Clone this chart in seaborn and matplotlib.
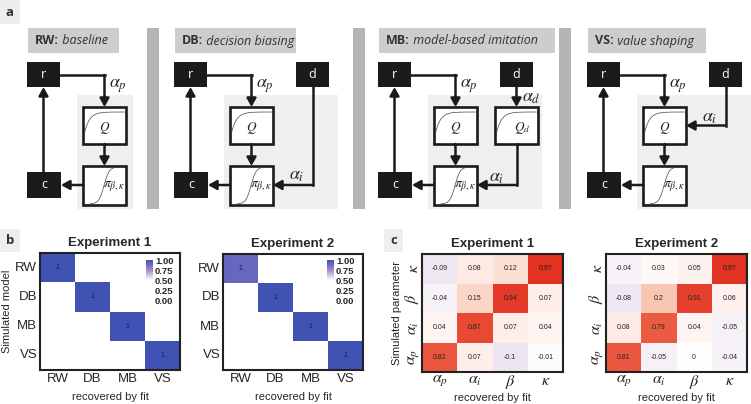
import numpy as np
import pandas as pd
import matplotlib
matplotlib.use("Agg")
import matplotlib.pyplot as plt
import seaborn as sns
from matplotlib.colors import LinearSegmentedColormap
from matplotlib.patches import Rectangle

# ---------------- data ----------------
models = ["RW", "DB", "MB", "VS"]
model_titles = ["baseline", "decision biasing", "model-based imitation", "value shaping"]

conf_exp1 = [[1, 0, 0, 0], [0, 1, 0, 0], [0, 0, 1, 0], [0, 0, 0, 1]]
conf_exp2 = [[0.9, 0, 0, 0], [0, 1, 0, 0], [0, 0, 1, 0], [0, 0, 0, 1]]
conf_annot = [["1", "", "", ""], ["", "1", "", ""], ["", "", "1", ""], ["", "", "", "1"]]
cbar_ticks = [0.0, 0.25, 0.5, 0.75, 1.0]

param_rows = [r"$\kappa$", r"$\beta$", r"$\alpha_i$", r"$\alpha_p$"]
param_cols = [r"$\alpha_p$", r"$\alpha_i$", r"$\beta$", r"$\kappa$"]
corr_exp1 = [[-0.09, 0.08, 0.12, 0.97],
             [-0.04, 0.15, 0.94, 0.07],
             [0.04, 0.87, 0.07, 0.04],
             [0.82, 0.07, -0.1, -0.01]]
corr_exp2 = [[-0.04, 0.03, 0.05, 0.97],
             [-0.08, 0.2, 0.91, 0.06],
             [0.08, 0.79, 0.04, -0.05],
             [0.81, -0.05, 0, -0.04]]

# ---------------- style ----------------
sns.set_theme(style="white")
plt.rcParams["font.family"] = ["Liberation Sans", "DejaVu Sans"]
plt.rcParams["mathtext.fontset"] = "stix"

W, H = 751, 404
fig = plt.figure(figsize=(W / 100, H / 100), dpi=100)
fig.patch.set_facecolor("white")

# ---------------- panel a : diagrams ----------------
axd = fig.add_axes([0, 0, 1, 1])
axd.set_xlim(0, W)
axd.set_ylim(H, 0)
axd.axis("off")

AFONT = ["Open Sans", "DejaVu Sans"]
LW = 1.8
GREEK = 13


def rect(x, y, w, h, fc, ec="none", lw=0, z=1):
    axd.add_patch(Rectangle((x, y), w, h, facecolor=fc, edgecolor=ec, lw=lw, zorder=z))


def poly(xs, ys):
    axd.plot(xs, ys, color="k", lw=LW, solid_capstyle="projecting",
             solid_joinstyle="miter", zorder=3)


def arrow(x0, y0, x1, y1):
    axd.annotate("", xy=(x1, y1), xytext=(x0, y0),
                 arrowprops=dict(arrowstyle="-|>,head_length=0.5,head_width=0.28",
                                 lw=LW, color="k", shrinkA=0, shrinkB=0,
                                 mutation_scale=10), zorder=4)


def black_box(x, y, w, h, label):
    rect(x, y, w, h, "#1b1b1b", z=2)
    axd.text(x + w / 2, y + h / 2, label, color="white", ha="center", va="center",
             fontsize=9, family=AFONT, zorder=5)


def q_box(x, y, label):
    w, h = 43, 37
    rect(x, y, w, h, "white", ec="k", lw=1.9, z=2)
    xx = np.linspace(x + 1.5, x + w - 1.5, 60)
    yy = y + 5 + 21 * np.exp(-(xx - x - 1.5) / 5.0)
    axd.plot(xx, yy, color="#444444", lw=0.5, zorder=3)
    axd.text(x + w / 2 + (6 if label != "$Q$" else 0), y + h / 2 + 3, label,
             ha="center", va="center", fontsize=9.5, zorder=5)


def pi_box(x, y):
    w, h = 43, 39
    rect(x, y, w, h, "white", ec="k", lw=1.9, z=2)
    xx = np.linspace(x + 7, x + 36, 80)
    yy = y + h - 1 - (h - 2) / (1 + np.exp(-(xx - x - 21) / 2.6))
    axd.plot(xx, yy, color="#444444", lw=0.5, zorder=3)
    axd.text(x + w - 1, y + h / 2 + 1, r"$\pi_{\beta,\kappa}$", ha="right", va="center",
             fontsize=10, zorder=5)


# panel label a
rect(0, 0, 20, 24, "#eeeeee", z=0)
axd.text(10, 12, "a", ha="center", va="center", fontsize=9.5, fontweight="bold",
         family=AFONT, color="#333333")

panel_x = [0, 147, 351, 560]
title_w = [91, 121, 176, 118]

# separators
for sx in [147, 353, 559]:
    rect(sx, 28, 12, 181, "#b5b5b5", z=0)

for i, (m, t) in enumerate(zip(models, model_titles)):
    ox = panel_x[i]
    rect(ox + 28, 28, title_w[i], 25, "#cdcdcd", z=0)
    tb = axd.text(ox + 35, 41, m + ":", fontweight="bold", fontsize=9, family=AFONT,
                  ha="left", va="center", color="#333333", zorder=5)
    axd.annotate(" " + t, xy=(1, 0), xycoords=tb, ha="left", va="bottom", fontsize=9,
                 style="italic", family=AFONT, color="#333333", zorder=5)
    # light grey region
    rect(ox + 77, 95, 56 if i == 0 else 114, 114, "#efefef", z=0.5)
    black_box(ox + 27, 62, 33, 25, "r")
    black_box(ox + 27, 172, 34, 26, "c")
    q_box(ox + 83, 107, "$Q$")
    pi_box(ox + 83, 166)
    # r -> Q
    poly([ox + 60, ox + 104.5], [75, 75])
    arrow(ox + 104.5, 75, ox + 104.5, 107)
    axd.text(ox + 109, 86, r"$\alpha_p$", fontsize=GREEK, ha="left", va="center", zorder=5)
    # Q -> pi
    arrow(ox + 104.5, 144, ox + 104.5, 166)
    # pi -> c
    arrow(ox + 83, 185, ox + 61, 185)
    # c -> r
    arrow(ox + 43.5, 172, ox + 43.5, 87)
    if i > 0:
        black_box(ox + 149, 62, 33, 25, "d")
    if i == 1:
        poly([ox + 165.5, ox + 165.5], [87, 185])
        arrow(ox + 165.5, 185, ox + 126, 185)
        axd.text(ox + 150, 176, r"$\alpha_i$", fontsize=GREEK, ha="center", va="center", zorder=5)
    if i == 2:
        q_box(ox + 144, 107, "$Q_d$")
        arrow(ox + 165.5, 87, ox + 165.5, 107)
        axd.text(ox + 171, 97, r"$\alpha_d$", fontsize=GREEK, ha="left", va="center", zorder=5)
        poly([ox + 165.5, ox + 165.5], [144, 185])
        arrow(ox + 165.5, 185, ox + 126, 185)
        axd.text(ox + 146, 177, r"$\alpha_i$", fontsize=GREEK, ha="center", va="center", zorder=5)
    if i == 3:
        poly([ox + 165.5, ox + 165.5], [87, 125.5])
        arrow(ox + 165.5, 125.5, ox + 126, 125.5)
        axd.text(ox + 150, 117, r"$\alpha_i$", fontsize=GREEK, ha="center", va="center", zorder=5)

# panel labels b, c
rect(0, 229, 20, 23, "#eeeeee", z=0)
axd.text(10, 240, "b", ha="center", va="center", fontsize=9.5, fontweight="bold",
         family=AFONT, color="#333333")
rect(384, 229, 19, 23, "#eeeeee", z=0)
axd.text(394, 240, "c", ha="center", va="center", fontsize=9.5, fontweight="bold",
         family=AFONT, color="#333333")


def px_axes(x0, y0, x1, y1):
    return fig.add_axes([x0 / W, 1 - y1 / H, (x1 - x0) / W, (y1 - y0) / H])


# ---------------- panel b : model confusion ----------------
cmap_b = LinearSegmentedColormap.from_list(
    "conf", [(0, "#ffffff"), (0.5, "#ffffff"), (0.75, "#a088cc"), (1.0, "#4152b5")])

b_axes = [(40, 253, 180, 370), (223, 254, 363, 370)]
b_cax = [(146, 260, 153, 300), (327, 260, 334, 300)]
for k, (vals, title) in enumerate([(conf_exp1, "Experiment 1"), (conf_exp2, "Experiment 2")]):
    ax = px_axes(*b_axes[k])
    cax = px_axes(*b_cax[k])
    df = pd.DataFrame(vals, index=models, columns=models)
    sns.heatmap(df, ax=ax, cmap=cmap_b, vmin=0, vmax=1, annot=np.array(conf_annot), fmt="",
                annot_kws={"size": 5, "color": "#222222"}, cbar_ax=cax,
                cbar_kws={"ticks": cbar_ticks})
    for s in ax.spines.values():
        s.set_visible(True)
        s.set_color("#222222")
        s.set_linewidth(1.5)
    ax.tick_params(length=0, labelsize=9.5, pad=2)
    ax.set_yticklabels(models, rotation=0)
    ax.set_xticklabels(models, rotation=0)
    ax.set_title(title, fontsize=9.5, fontweight="bold", pad=5)
    ax.set_xlabel("recovered by fit", fontsize=8)
    ax.xaxis.set_label_coords(0.5, -0.19)
    if k == 0:
        ax.set_ylabel("Simulated model", fontsize=8)
        ax.yaxis.set_label_coords(-0.2, 0.5)
    else:
        ax.set_ylabel("")
    cb = ax.collections[0].colorbar
    cb.outline.set_visible(False)
    cax.tick_params(length=0, pad=1.5)
    cax.set_yticklabels([f"{v:.2f}" for v in cbar_ticks], fontsize=6.8, fontweight="bold")

# ---------------- panel c : parameter recovery ----------------
cmap_c = LinearSegmentedColormap.from_list(
    "corr", [(0.0, "#6b4c9a"), (0.45, "#ece3f0"), (0.5, "#ffffff"), (0.55, "#fde6de"),
             (0.6, "#f9c6b4"), (0.75, "#f28a6c"), (0.9, "#eb5a40"), (1.0, "#e02d1e")])

c_axes = [(422, 254, 563, 372), (606, 254, 747, 372)]
for k, (vals, title) in enumerate([(corr_exp1, "Experiment 1"), (corr_exp2, "Experiment 2")]):
    ax = px_axes(*c_axes[k])
    df = pd.DataFrame(vals, index=param_rows, columns=param_cols)
    sns.heatmap(df, ax=ax, cmap=cmap_c, vmin=-1, vmax=1, annot=True, fmt="g",
                annot_kws={"size": 5, "color": "#222222"}, cbar=False)
    for s in ax.spines.values():
        s.set_visible(True)
        s.set_color("#222222")
        s.set_linewidth(1.5)
    ax.tick_params(length=0, labelsize=11.5, pad=1)
    ax.set_yticklabels(param_rows, rotation=90, va="center")
    ax.set_xticklabels(param_cols, rotation=0)
    ax.set_title(title, fontsize=9.5, fontweight="bold", pad=5)
    ax.set_xlabel("recovered by fit", fontsize=8, labelpad=0)
    ax.xaxis.set_label_coords(0.5, -0.175)
    if k == 0:
        ax.set_ylabel("Simulated parameter", fontsize=8)
        ax.yaxis.set_label_coords(-0.14, 0.5)
    else:
        ax.set_ylabel("")

fig.savefig("out.png", dpi=100)
